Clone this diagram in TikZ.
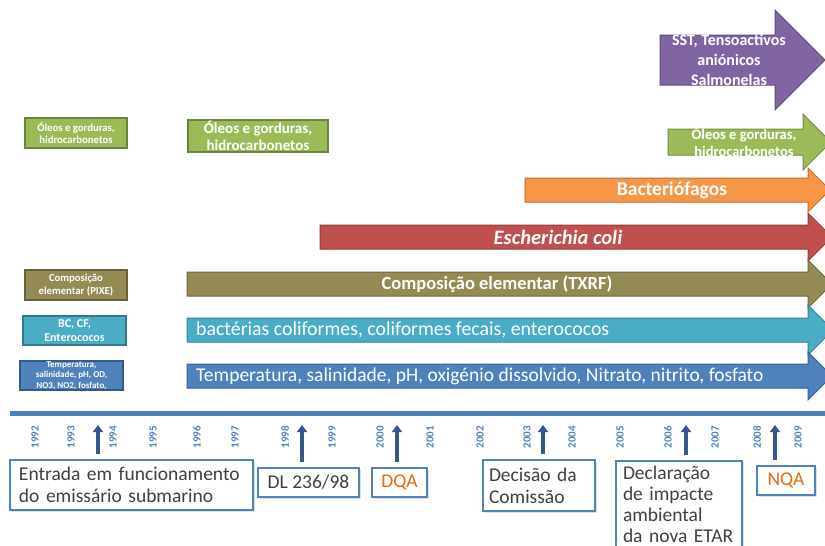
\documentclass[tikz,border=0pt]{standalone}
\usepackage{fontspec}
\setmainfont{Carlito}
\usepackage{xcolor}
\usetikzlibrary{arrows.meta, positioning, calc, shadows}
\definecolor{tlpurple}{RGB}{128, 100, 162}
\definecolor{tlgreen}{RGB}{155, 187, 89}
\definecolor{tlorange}{RGB}{247, 150, 70}
\definecolor{tlred}{RGB}{192, 80, 77}
\definecolor{tlolive}{RGB}{148, 138, 84}
\definecolor{tlcyan}{RGB}{75, 172, 198}
\definecolor{tlblue}{RGB}{79, 129, 189}
\definecolor{tldark}{RGB}{50, 88, 140}
\definecolor{tltext}{RGB}{64, 64, 64}
\definecolor{tlnorm}{RGB}{228, 108, 10}
\tikzset{
  bandarrow/.style={fill=#1, draw=#1!75!black, line width=1pt},
  bandtext/.style={text=white, align=center, inner sep=0pt,
                   font=\fontsize{18.5}{20}\selectfont\bfseries},
  tag/.style={rectangle, draw=#1!70!black, fill=#1, line width=1.2pt, text=white,
              align=center, inner sep=0pt, font=\fontsize{10.7}{12.5}\selectfont\bfseries,
              drop shadow={opacity=0.25, shadow xshift=1pt, shadow yshift=-1pt}},
  yearlbl/.style={rotate=90, text=tlblue, inner sep=0pt,
                  font=\fontsize{11}{11}\selectfont\bfseries},
  uparrow/.style={-{Triangle[width=10pt, length=7pt]}, line width=4pt, color=tldark},
  event/.style={rectangle, draw=tlblue, fill=white, line width=1.5pt, text=tltext,
                inner sep=0pt, font=\fontsize{19.5}{22}\selectfont,
                drop shadow={opacity=0.25, shadow xshift=1.5pt, shadow yshift=-1.5pt}},
}
\begin{document}
\begin{tikzpicture}[x=1pt, y=-1pt]
  \useasboundingbox (0,0) rectangle (825,546);
  \clip (0,0) rectangle (825,546);

  % parameter bands
  \foreach \yc/\xs/\xh/\h/\H/\col in {60/660/775/25/50/tlpurple, 142/668/803/13/28/tlgreen,
      190/525/808/12/22/tlorange, 237/320/808/12/24/tlred, 284/187/808/12/24/tlolive,
      330/187/808/12/25/tlcyan, 376/187/808/12/24/tlblue}
    \draw[bandarrow=\col] (\xs,\yc-\h) -- (\xh,\yc-\h) -- (\xh,\yc-\H) -- (\xh+\H,\yc)
      -- (\xh,\yc+\H) -- (\xh,\yc+\h) -- (\xs,\yc+\h) -- cycle;

  \node[bandtext, font=\fontsize{16}{20}\selectfont\bfseries] (sst) at (729,60)
    {SST, Tensoactivos\\aniónicos\\Salmonelas};
  \node[bandtext, font=\fontsize{14.5}{17}\selectfont\bfseries] (oleosR) at (744,142)
    {Óleos e gorduras,\\hidrocarbonetos};
  \node[bandtext, font=\fontsize{19.5}{20}\selectfont\bfseries] (fagos) at (672,190) {Bacteriófagos};
  \node[bandtext, font=\fontsize{20.5}{22}\selectfont\bfseries\itshape] (ecoli) at (558,237)
    {Escherichia coli};
  \node[bandtext] (txrf) at (497,284) {Composição elementar (TXRF)};
  \node[bandtext, anchor=west, font=\fontsize{19.8}{22}\selectfont] (coli) at (196,330)
    {bactérias coliformes, coliformes fecais, enterococos};
  \node[bandtext, anchor=west, font=\fontsize{19.5}{22}\selectfont] (param) at (196,376)
    {Temperatura, salinidade, pH, oxigénio dissolvido, Nitrato, nitrito, fosfato};

  % earlier campaigns
  \node[tag=tlgreen, minimum width=102pt, minimum height=30pt] (oleosA) at (76,133)
    {Óleos e gorduras,\\hidrocarbonetos};
  \node[tag=tlgreen, minimum width=140pt, minimum height=32pt,
        font=\fontsize{15}{16.5}\selectfont\bfseries] (oleosB) at (258,136)
    {Óleos e gorduras,\\hidrocarbonetos};
  \node[tag=tlolive, minimum width=102pt, minimum height=30pt] (pixe) at (76,285)
    {Composição\\elementar (PIXE)};
  \node[tag=tlcyan, minimum width=103pt, minimum height=29pt,
        font=\fontsize{12}{13.5}\selectfont\bfseries] (bccf) at (74.5,330.5)
    {BC, CF,\\Enterococos};
  \node[tag=tlblue, minimum width=103pt, minimum height=29pt,
        font=\fontsize{9}{10.5}\selectfont\bfseries] (paramA) at (71.5,375.5)
    {Temperatura,\\salinidade, pH, OD,\\NO3, NO2, fosfato,};

  % time axis
  \draw[tlblue, line width=5pt] (10,413.5) -- (825,413.5);
  \foreach \x/\yr in {35/1992, 71/1993, 113/1994, 153/1995, 197/1996, 235/1997,
      285/1998, 332/1999, 380/2000, 430/2001, 480/2002, 527/2003, 572/2004,
      620/2005, 668/2006, 715/2007, 757/2008, 798/2009}
    \node[yearlbl] (y\yr) at (\x,437) {\yr};

  % events
  \node[event, minimum width=243pt, minimum height=50pt, text width=225pt, align=left]
    (entrada) at (131.5,485) {Entrada em funcionamento\\do emissário submarino};
  \node[event, minimum width=101pt, minimum height=29pt] (dl) at (308.5,482.5) {DL 236/98};
  \node[event, minimum width=55pt, minimum height=29pt, text=tlnorm] (dqa) at (399.5,482.5) {DQA};
  \node[event, minimum width=112pt, minimum height=51pt, text width=100pt, align=left]
    (decisao) at (539,485.5) {Decisão da\\Comissão};
  \node[event, anchor=north, minimum width=126pt, text width=112pt, align=left,
        inner ysep=5pt, font=\fontsize{19.5}{21}\selectfont] (dia) at (679,460)
    {Declaração\\de impacte\\ambiental\\da nova ETAR};
  \node[event, minimum width=58pt, minimum height=29pt, text=tlnorm] (nqa) at (786,480.5) {NQA};

  \coordinate (t1) at (98,425);
  \coordinate (t2) at (302,425);
  \coordinate (t3) at (397,425);
  \coordinate (t4) at (543,425);
  \coordinate (t5) at (686,425);
  \coordinate (t6) at (775,425);
  \draw[uparrow, shorten <=5pt] (t1 |- entrada.north) -- (t1);
  \draw[uparrow, shorten <=5pt] (t2 |- dl.north) -- (t2);
  \draw[uparrow, shorten <=5pt] (t3 |- dqa.north) -- (t3);
  \draw[uparrow, shorten <=5pt] (t4 |- decisao.north) -- (t4);
  \draw[uparrow, shorten <=5pt] (t5 |- dia.north) -- (t5);
  \draw[uparrow, shorten <=5pt] (t6 |- nqa.north) -- (t6);
\end{tikzpicture}
\end{document}
